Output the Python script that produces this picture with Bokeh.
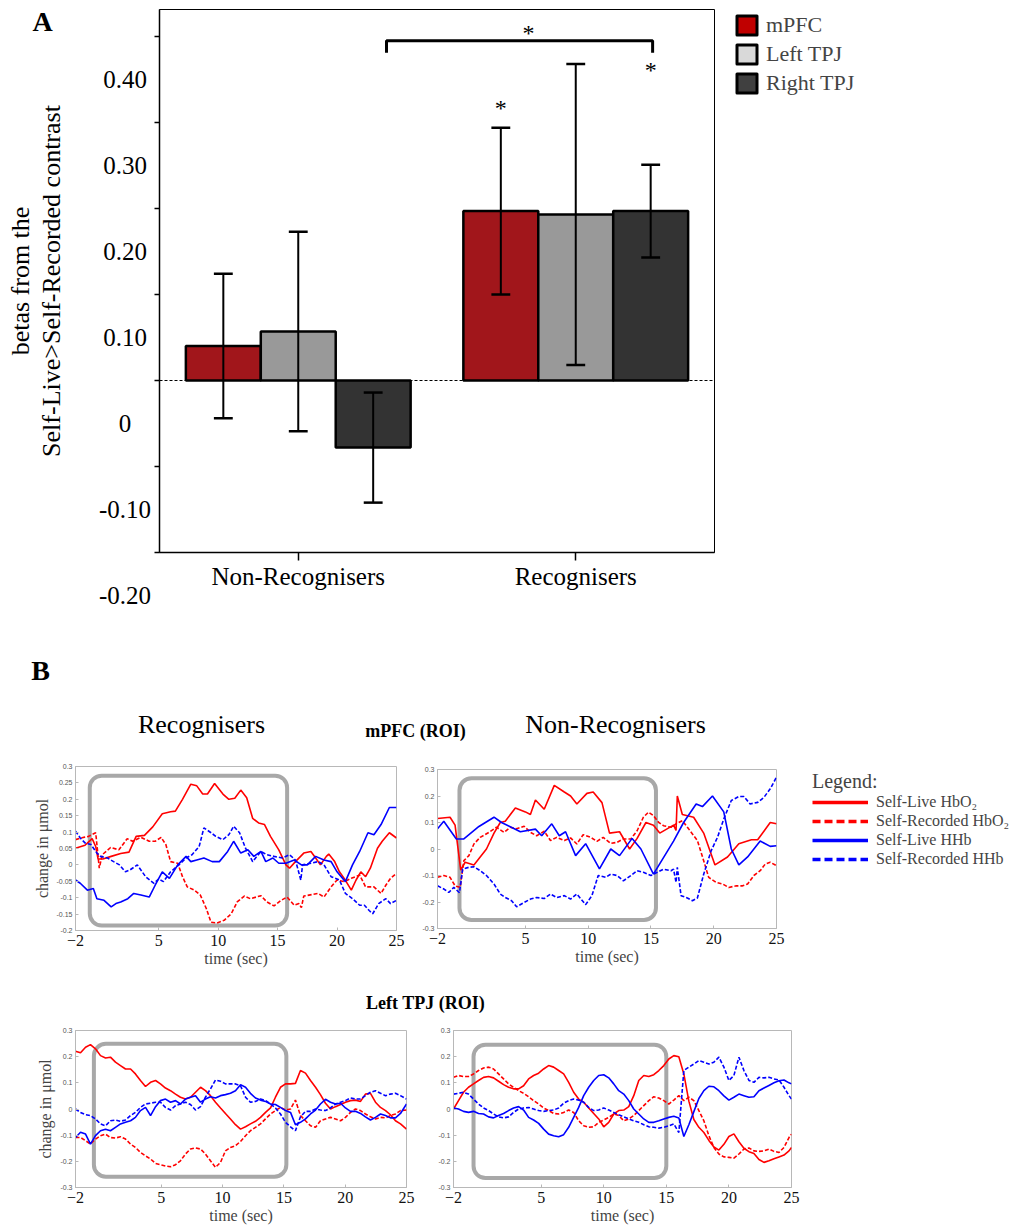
import math
from bokeh.plotting import figure
from bokeh.models import (Range1d, FactorRange, FixedTicker, CustomJSTickFormatter,
                          Span, Legend, LegendItem, BoxAnnotation, ColumnDataSource)
from bokeh.transform import dodge
from bokeh.layouts import column, row
from bokeh.embed import file_html
from bokeh.resources import INLINE
from bokeh.core.properties import value

SERIF = "Liberation Serif"
SANS = "Liberation Sans"
NAN = float("nan")

# ---------------- Panel A data ----------------
GROUPS = ["Non-Recognisers", "Recognisers"]
REGIONS = ["mPFC", "Left TPJ", "Right TPJ"]
MPFC_BETA = [0.040, 0.197]
MPFC_SE = [0.084, 0.097]
LTPJ_BETA = [0.057, 0.193]
LTPJ_SE = [0.116, 0.175]
RTPJ_BETA = [-0.078, 0.197]
RTPJ_SE = [0.064, 0.054]
BAR_FILL = ["#a1161b", "#999999", "#333333"]
SWATCH_FILL = ["#c00000", "#d9d9d9", "#404040"]
A_TICKS = [-0.2, -0.1, 0.0, 0.1, 0.2, 0.3, 0.4]
A_TICK_TEXT = ["-0.20", "-0.10", "0", "0.10", "0.20", "0.30", "0.40"]
LABEL_SHIFT = 0.05   # the printed tick labels sit half a step below the tick marks
BRACKET_X = [0.818, 0.818, 1.777, 1.777]
BRACKET_Y = [0.381, 0.395, 0.395, 0.381]
STAR_X = [1.33, 1.23, 1.77]
STAR_Y = [0.41, 0.323, 0.367]

# ---------------- Panel B data ----------------
X_TICKS = [-2, 5, 10, 15, 20, 25]

REC_MPFC_LIVE_HBO2 = [(-2.0,0.051),(-1.2,0.06),(-0.6,0.08),(-0.3,0.056),(-0.1,0.018),(0.3,0.018),(1.0,0.026),(1.8,0.035),(2.5,0.039),(3.1,0.087),(3.8,0.09),(4.5,0.116),(5.3,0.156),(6.0,0.162),(6.4,0.164),(7.0,0.2),(7.7,0.246),(8.2,0.241),(8.7,0.216),(9.1,0.216),(9.7,0.248),(10.4,0.216),(10.9,0.2),(11.4,0.203),(11.9,0.228),(12.4,0.205),(12.9,0.142),(13.4,0.128),(13.9,0.123),(14.4,0.087),(15.1,0.046),(15.7,0.0),(16.0,-0.01),(16.5,0.01),(17.2,0.036),(17.8,0.041),(18.2,0.021),(18.6,0.0),(19.1,0.026),(19.3,0.033),(19.8,0.01),(20.2,-0.021),(20.6,-0.041),(21.2,-0.077),(21.6,-0.046),(22.0,-0.021),(22.4,-0.036),(22.8,-0.01),(23.4,0.051),(23.8,0.072),(24.4,0.098),(25.0,0.082)]
REC_MPFC_REC_HBO2 = [(-2.0,0.077),(-1.3,0.084),(-0.9,0.087),(-0.3,0.098),(0.0,-0.01),(0.25,0.031),(0.95,0.053),(1.65,0.046),(2.35,0.08),(2.8,0.072),(3.5,0.084),(4.2,0.072),(4.7,0.072),(5.2,0.084),(5.6,0.062),(6.0,0.01),(6.6,0.005),(7.0,-0.036),(7.4,-0.067),(8.0,-0.077),(8.5,-0.092),(9.0,-0.133),(9.4,-0.175),(9.9,-0.177),(10.5,-0.169),(11.1,-0.149),(11.6,-0.113),(12.2,-0.095),(12.7,-0.103),(13.6,-0.094),(14.1,-0.113),(14.7,-0.125),(15.3,-0.108),(15.8,-0.098),(16.4,-0.123),(16.8,-0.118),(17.0,-0.13),(17.2,-0.095),(18.4,-0.087),(18.9,-0.098),(19.5,-0.067),(20.0,-0.046),(20.6,-0.051),(21.2,-0.041),(21.9,-0.031),(22.4,-0.067),(23.1,-0.067),(23.7,-0.087),(24.1,-0.062),(24.5,-0.041),(25.0,-0.026)]
REC_MPFC_LIVE_HHB = [(-2.0,-0.046),(-1.6,-0.056),(-1.0,-0.077),(-0.5,-0.072),(-0.2,-0.103),(0.4,-0.108),(1.0,-0.128),(1.4,-0.118),(1.8,-0.113),(2.4,-0.103),(2.9,-0.087),(3.5,-0.092),(4.2,-0.098),(4.7,-0.062),(5.3,-0.021),(5.9,-0.041),(6.6,0.0),(7.3,0.026),(7.7,0.01),(8.2,0.015),(8.8,0.021),(9.5,0.01),(10.1,0.01),(10.8,0.041),(11.3,0.072),(11.9,0.036),(12.5,0.046),(13.0,0.026),(13.6,0.041),(14.0,0.01),(14.6,0.021),(15.1,0.005),(15.7,0.005),(16.4,0.015),(17.0,0.0),(17.5,0.0),(18.2,0.026),(18.9,0.015),(19.5,0.01),(20.0,-0.021),(20.7,-0.051),(21.3,0.0),(21.9,0.041),(22.6,0.098),(23.1,0.092),(23.7,0.123),(24.4,0.175),(25.0,0.175)]
REC_MPFC_REC_HHB = [(-2.0,0.103),(-1.6,0.082),(-1.2,0.067),(-0.7,0.062),(-0.2,0.036),(0.1,0.026),(0.7,0.021),(1.2,0.01),(1.7,0.0),(2.2,-0.021),(2.6,-0.015),(3.2,0.0),(3.9,-0.036),(4.6,-0.056),(5.0,-0.043),(5.4,-0.051),(6.0,-0.021),(6.7,0.0),(7.3,0.021),(7.8,0.031),(8.4,0.056),(8.8,0.113),(9.4,0.098),(9.8,0.087),(10.4,0.077),(10.9,0.092),(11.3,0.118),(11.8,0.098),(12.3,0.051),(12.9,0.01),(13.6,0.041),(14.1,0.031),(14.7,0.026),(15.4,0.021),(16.0,0.031),(16.5,0.015),(16.95,-0.046),(17.1,0.0),(17.8,0.005),(18.4,0.01),(18.9,0.0),(19.5,-0.036),(20.2,-0.046),(20.7,-0.087),(21.3,-0.103),(21.9,-0.123),(22.3,-0.123),(22.7,-0.139),(23.0,-0.149),(23.5,-0.118),(24.1,-0.103),(24.5,-0.118),(25.0,-0.108)]
REC_MPFC_WINDOW = (-0.8, 15.8, -0.185, 0.272)

NON_MPFC_LIVE_HBO2 = [(-2.0,0.115),(-1.0,0.12),(-0.6,0.09),(-0.15,-0.08),(0.2,-0.05),(0.9,-0.06),(1.4,-0.03),(1.9,0.0),(2.5,0.06),(3.0,0.1),(3.4,0.105),(4.2,0.155),(5.0,0.14),(5.4,0.13),(5.8,0.185),(6.5,0.15),(7.3,0.24),(8.1,0.215),(8.6,0.2),(9.1,0.17),(9.9,0.21),(10.4,0.215),(11.1,0.175),(11.7,0.06),(12.5,0.065),(13.3,0.0),(13.9,0.04),(14.6,0.1),(15.2,0.09),(15.7,0.06),(16.8,0.09),(17.0,0.07),(17.1,0.2),(17.5,0.13),(18.4,0.12),(19.2,0.06),(20.1,-0.06),(21.1,-0.03),(22.0,0.02),(23.0,0.035),(23.5,0.035),(24.5,0.1),(25.0,0.095)]
NON_MPFC_REC_HBO2 = [(-2.0,-0.107),(-1.5,-0.1),(-1.0,-0.107),(-0.6,-0.139),(-0.2,-0.145),(0.1,-0.044),(0.5,-0.025),(0.9,0.019),(1.4,0.044),(2.1,0.063),(2.7,0.082),(3.3,0.063),(3.8,0.082),(4.3,0.076),(4.9,0.086),(5.4,0.063),(5.9,0.05),(6.5,0.067),(7.0,0.032),(7.5,0.044),(8.1,0.032),(8.6,0.042),(9.1,0.019),(9.6,0.054),(10.2,0.044),(10.7,0.029),(11.2,0.044),(11.8,0.021),(12.3,0.025),(12.8,0.038),(13.4,0.038),(13.9,0.069),(14.4,0.12),(14.8,0.139),(15.2,0.126),(15.6,0.101),(16.0,0.088),(16.6,0.082),(17.0,0.095),(17.5,0.107),(18.0,0.076),(18.7,0.032),(19.2,-0.044),(19.6,-0.107),(20.2,-0.126),(20.7,-0.132),(21.2,-0.145),(21.8,-0.139),(22.3,-0.139),(22.7,-0.132),(23.2,-0.1),(23.7,-0.082),(24.1,-0.057),(24.5,-0.05),(25.0,-0.063)]
NON_MPFC_LIVE_HHB = [(-2.0,0.076),(-1.5,0.105),(-0.5,0.038),(0.1,0.038),(1.3,0.085),(2.5,0.12),(3.1,0.1),(4.6,0.065),(5.8,0.075),(6.3,0.05),(7.1,0.095),(7.7,0.05),(8.2,0.065),(9.0,-0.025),(9.8,0.02),(10.9,-0.075),(11.8,0.0),(12.5,-0.025),(13.5,0.04),(14.2,0.0),(15.2,-0.095),(16.8,0.03),(17.6,0.1),(18.6,0.17),(19.1,0.16),(19.9,0.2),(20.8,0.14),(21.4,0.0),(22.0,-0.06),(22.7,-0.03),(23.7,0.03),(24.5,0.01),(25.0,0.012)]
NON_MPFC_REC_HHB = [(-2.0,-0.139),(-1.5,-0.151),(-1.1,-0.164),(-0.7,-0.145),(-0.25,-0.165),(0.0,-0.076),(0.5,-0.069),(0.9,-0.067),(1.4,-0.082),(1.9,-0.1),(2.5,-0.132),(3.0,-0.17),(3.4,-0.183),(3.9,-0.195),(4.3,-0.218),(4.9,-0.202),(5.4,-0.189),(5.9,-0.183),(6.5,-0.187),(7.0,-0.17),(7.5,-0.183),(8.1,-0.176),(8.6,-0.189),(9.1,-0.17),(9.8,-0.21),(10.3,-0.176),(10.8,-0.1),(11.4,-0.107),(11.8,-0.095),(12.3,-0.1),(12.8,-0.12),(13.4,-0.1),(13.9,-0.082),(14.4,-0.088),(15.0,-0.1),(15.5,-0.088),(16.0,-0.076),(16.6,-0.082),(16.8,-0.076),(17.0,-0.126),(17.1,-0.069),(17.4,-0.176),(17.9,-0.185),(18.3,-0.195),(18.7,-0.185),(19.2,-0.095),(19.8,-0.006),(20.3,0.044),(20.8,0.113),(21.4,0.183),(22.0,0.198),(22.4,0.198),(22.9,0.17),(23.5,0.176),(24.0,0.195),(24.5,0.227),(25.0,0.271)]
NON_MPFC_WINDOW = (-0.25, 15.4, -0.268, 0.267)

T_REC_LTPJ = [-2.0,-1.59,-1.18,-0.78,-0.37,0.04,0.45,0.85,1.26,1.67,2.08,2.49,2.89,3.3,3.71,4.12,4.53,4.93,5.34,5.75,6.16,6.56,6.97,7.38,7.79,8.2,8.6,9.01,9.42,9.83,10.23,10.64,11.05,11.46,11.87,12.27,12.68,13.09,13.5,13.91,14.31,14.72,15.13,15.54,15.94,16.35,16.76,17.17,17.58,17.98,18.39,18.8,19.21,19.62,20.02,20.43,20.84,21.25,21.65,22.06,22.47,22.88,23.29,23.69,24.1,24.51,25.0]
REC_LTPJ_LIVE_HBO2 = [0.221,0.215,0.236,0.246,0.23,0.204,0.195,0.198,0.179,0.166,0.153,0.153,0.134,0.109,0.086,0.102,0.109,0.096,0.08,0.07,0.057,0.045,0.038,0.045,0.064,0.083,0.07,0.051,0.026,0.004,-0.017,-0.038,-0.06,-0.077,-0.068,-0.057,-0.047,-0.032,-0.013,0.004,0.045,0.083,0.096,0.096,0.098,0.147,0.137,0.109,0.083,0.055,0.022,0.0,0.009,0.017,0.026,0.032,0.034,0.029,0.057,0.06,0.026,0.006,-0.006,-0.022,-0.045,-0.057,-0.077]
REC_LTPJ_REC_HBO2 = [-0.109,-0.109,-0.121,-0.134,-0.115,-0.102,-0.096,-0.109,-0.111,-0.106,-0.115,-0.134,-0.147,-0.166,-0.179,-0.191,-0.208,-0.213,-0.218,-0.221,-0.213,-0.198,-0.172,-0.153,-0.149,-0.153,-0.172,-0.198,-0.223,-0.204,-0.16,-0.147,-0.14,-0.124,-0.102,-0.083,-0.07,-0.057,-0.038,-0.019,-0.006,0.006,-0.004,0.0,0.034,-0.025,-0.045,-0.064,-0.07,-0.045,-0.038,-0.032,-0.038,-0.045,-0.032,-0.013,0.0,-0.006,-0.019,-0.03,-0.038,-0.032,-0.034,-0.025,-0.019,-0.006,-0.004]
REC_LTPJ_LIVE_HHB = [-0.109,-0.089,-0.096,-0.134,-0.102,-0.083,-0.077,-0.083,-0.07,-0.057,-0.051,-0.045,-0.032,-0.006,0.006,-0.025,0.009,0.032,0.038,0.026,0.032,0.019,0.038,0.045,0.051,0.026,0.038,0.047,0.042,0.051,0.055,0.06,0.07,0.093,0.083,0.06,0.042,0.034,0.029,0.019,0.017,0.006,-0.006,-0.013,-0.06,-0.051,-0.038,-0.019,-0.004,0.019,0.037,0.026,0.019,0.022,0.004,-0.009,-0.009,-0.017,-0.03,-0.042,-0.032,-0.019,-0.025,-0.034,-0.034,-0.017,0.019]
REC_LTPJ_REC_HHB = [0.0,-0.013,-0.022,-0.025,-0.038,-0.057,-0.064,-0.045,-0.042,-0.047,-0.042,-0.025,-0.013,0.006,0.019,0.022,0.026,0.026,0.006,-0.004,0.013,0.019,0.026,0.017,-0.004,0.009,0.045,0.077,0.111,0.106,0.096,0.096,0.096,0.089,0.045,0.026,0.029,0.038,0.032,0.019,0.004,-0.019,-0.051,-0.068,-0.083,-0.03,-0.009,-0.009,0.0,-0.004,-0.006,0.004,0.019,0.026,0.032,0.042,0.038,0.038,0.051,0.064,0.07,0.06,0.051,0.057,0.06,0.051,0.038]
REC_LTPJ_WINDOW = (-0.5, 15.2, -0.259, 0.249)

T_NON_LTPJ = [-2.0,-1.6,-1.2,-0.8,-0.4,0.0,0.4,0.8,1.2,1.6,2.0,2.4,2.8,3.2,3.6,4.0,4.4,4.8,5.2,5.6,6.0,6.4,6.8,7.2,7.6,8.0,8.4,8.8,9.2,9.6,10.0,10.4,10.8,11.2,11.6,12.0,12.4,12.8,13.2,13.6,14.0,14.4,14.8,15.2,15.6,16.0,16.4,16.8,17.2,17.6,18.0,18.4,18.8,19.2,19.6,20.0,20.4,20.8,21.2,21.6,22.0,22.4,22.8,23.2,23.6,24.0,24.4,24.8,25.0]
NON_LTPJ_LIVE_HBO2 = [0.0,0.032,0.064,0.083,0.096,0.109,0.121,0.124,0.119,0.106,0.093,0.083,0.077,0.077,0.089,0.115,0.128,0.137,0.153,0.166,0.16,0.147,0.134,0.102,0.064,0.038,0.026,0.004,-0.017,-0.038,-0.068,-0.051,-0.019,-0.006,-0.004,0.009,0.051,0.109,0.128,0.124,0.131,0.147,0.166,0.191,0.204,0.2,0.134,0.03,-0.04,-0.07,-0.09,-0.12,-0.145,-0.157,-0.135,-0.105,-0.095,-0.125,-0.15,-0.163,-0.17,-0.193,-0.204,-0.198,-0.19,-0.183,-0.176,-0.16,-0.147]
NON_LTPJ_REC_HBO2 = [0.121,0.128,0.124,0.124,0.134,0.147,0.157,0.16,0.153,0.134,0.115,0.096,0.083,0.07,0.06,0.047,0.032,0.019,0.004,-0.006,-0.017,-0.019,-0.013,-0.004,-0.013,-0.045,-0.064,-0.07,-0.068,-0.051,-0.042,-0.032,-0.019,-0.025,-0.045,-0.038,-0.025,-0.006,0.013,0.032,0.047,0.042,0.032,0.019,0.034,0.051,0.032,0.045,0.032,-0.006,-0.045,-0.102,-0.147,-0.172,-0.183,-0.185,-0.188,-0.172,-0.153,-0.149,-0.16,-0.162,-0.16,-0.153,-0.162,-0.166,-0.147,-0.109,-0.096]
NON_LTPJ_LIVE_HHB = [0.004,0.0,-0.009,-0.013,-0.009,-0.017,-0.019,-0.03,-0.034,-0.025,-0.017,-0.006,0.004,0.009,-0.004,-0.032,-0.042,-0.055,-0.077,-0.096,-0.102,-0.106,-0.098,-0.07,-0.032,0.006,0.051,0.083,0.109,0.128,0.131,0.119,0.096,0.07,0.057,0.032,0.0,-0.019,-0.038,-0.051,-0.051,-0.045,-0.038,-0.032,-0.028,-0.034,-0.105,-0.06,-0.01,0.04,0.07,0.087,0.085,0.07,0.05,0.034,0.045,0.057,0.051,0.045,0.047,0.07,0.08,0.09,0.1,0.108,0.111,0.1,0.096]
NON_LTPJ_REC_HHB = [0.057,0.06,0.064,0.057,0.038,0.019,0.004,-0.006,-0.019,-0.03,-0.034,-0.03,-0.013,0.0,0.004,0.006,0.0,-0.006,-0.009,-0.006,-0.004,0.004,0.022,0.032,0.038,0.034,0.026,0.006,-0.006,-0.004,0.004,-0.004,-0.013,-0.022,-0.03,-0.038,-0.045,-0.051,-0.06,-0.068,-0.07,-0.073,-0.07,-0.064,-0.057,-0.09,0.147,0.16,0.172,0.185,0.179,0.172,0.179,0.198,0.16,0.109,0.128,0.198,0.147,0.109,0.102,0.121,0.119,0.121,0.115,0.111,0.083,0.051,0.038]
NON_LTPJ_WINDOW = (-0.4, 15.0, -0.264, 0.246)

SERIES_NAMES = ["Self-Live HbO\u2082", "Self-Recorded HbO\u2082", "Self-Live HHb", "Self-Recorded HHb"]
SERIES_COLORS = ["#ff0000", "#ff0000", "#0000ff", "#0000ff"]
SERIES_DASH = ["solid", "4 2", "solid", "4 2"]

FRAME_GRAY = "#b8b8b8"
WINDOW_GRAY = "#a8a8a8"


def solo(p):
    return column(p)


def blank(width, height, xr, yr):
    f = figure(width=width, height=height, x_range=xr, y_range=yr,
               output_backend="svg", toolbar_location=None, title=None,
               x_axis_location=None, y_axis_location=None, min_border=0,
               min_border_left=0, min_border_right=0, min_border_top=0, min_border_bottom=0)
    f.grid.visible = False
    f.outline_line_color = None
    return f


# ======================= Panel A =======================
Y0, Y1 = -0.2, 0.4314
A_H = 616
A_TOP, A_BOTTOM = 9, 64
A_FRAME_H = A_H - A_TOP - A_BOTTOM
PX = A_FRAME_H / (Y1 - Y0)
LEFT_W = 152

pA = figure(width=564, height=A_H, x_range=FactorRange(factors=GROUPS),
            y_range=Range1d(Y0, Y1), output_backend="svg", toolbar_location=None,
            title=None, min_border_left=7, min_border_right=2,
            min_border_top=A_TOP, min_border_bottom=A_BOTTOM)
pA.grid.visible = False
pA.outline_line_color = "black"
pA.outline_line_width = 1

yax = pA.yaxis[0]
yax.ticker = FixedTicker(ticks=[], minor_ticks=A_TICKS)
yax.major_tick_out = 0
yax.major_tick_in = 0
yax.minor_tick_out = 5
yax.minor_tick_in = 0
yax.axis_line_width = 1.5
yax.minor_tick_line_width = 1.5

xax = pA.xaxis[0]
xax.major_label_text_font = SERIF
xax.major_label_text_font_size = "25px"
xax.major_label_text_color = "black"
xax.major_tick_out = 8
xax.major_tick_in = 0
xax.major_label_standoff = 2
xax.axis_line_width = 1.5
xax.major_tick_line_width = 1.5

pA.add_layout(Span(location=0, dimension="width", line_color="black",
                   line_width=1, line_dash="3 2", level="underlay"))

OFFS = [-0.27, 0.0, 0.27]
CAP = 0.034
for i, (beta, se) in enumerate([(MPFC_BETA, MPFC_SE), (LTPJ_BETA, LTPJ_SE), (RTPJ_BETA, RTPJ_SE)]):
    src = ColumnDataSource(dict(group=GROUPS, beta=beta,
                                lo=[b - s for b, s in zip(beta, se)],
                                hi=[b + s for b, s in zip(beta, se)]))
    xc = dodge("group", OFFS[i], range=pA.x_range)
    pA.vbar(x=xc, top="beta", bottom=0, width=0.27, source=src,
            fill_color=BAR_FILL[i], line_color="black", line_width=2.5)
    pA.segment(x0=xc, x1=xc, y0="lo", y1="hi", source=src, line_color="black", line_width=2)
    for key in ("lo", "hi"):
        pA.segment(x0=dodge("group", OFFS[i] - CAP, range=pA.x_range),
                   x1=dodge("group", OFFS[i] + CAP, range=pA.x_range),
                   y0=key, y1=key, source=src, line_color="black", line_width=2.5)

pA.line(x=BRACKET_X, y=BRACKET_Y, line_color="black", line_width=3)
pA.text(x=STAR_X, y=STAR_Y, text=["*"] * len(STAR_X), text_font=value(SERIF),
        text_font_size="24px", text_align="center", text_baseline="middle", y_offset=5,
        text_color="black")

# left strip: panel letter, y title and the printed y tick labels (same scale as pA, shifted)
lab_top = Y1 + LABEL_SHIFT + A_TOP / PX
lab_bottom = Y0 + LABEL_SHIFT - A_BOTTOM / PX


def lab_at(py):
    return lab_top - py / PX


pL = blank(LEFT_W, A_H, Range1d(0, LEFT_W), Range1d(lab_bottom, lab_top))
pL.text(x=[124.5] * len(A_TICKS), y=A_TICKS, text=A_TICK_TEXT, text_font=value(SERIF),
        text_font_size="25px", text_align="center", text_baseline="middle", text_color="black")
mid = lab_at(A_TOP + A_FRAME_H / 2)
pL.text(x=[20, 51], y=[mid, mid], text=["betas from the", "Self-Live>Self-Recorded contrast"],
        angle=math.pi / 2, text_font=value(SERIF), text_font_size="26px",
        text_align="center", text_baseline="middle", text_color="black")
pL.text(x=[42], y=[lab_at(21)], text=["A"], text_font=value(SERIF), text_font_size="28px",
        text_font_style="bold", text_align="center", text_baseline="middle", text_color="black")

# right strip: legend of panel A
R_W = 1016 - LEFT_W - 564
pR = blank(R_W, A_H, Range1d(0, 1), Range1d(0, 1))
items = []
for name, col in zip(REGIONS, SWATCH_FILL):
    r = pR.quad(left=[NAN], right=[NAN], top=[NAN], bottom=[NAN], fill_color=col,
                line_color="black", line_width=3, line_join="round")
    items.append(LegendItem(label=name, renderers=[r]))
LEG_H = 3 * 26 + 2 * 3
pR.add_layout(Legend(items=items, location=(18, A_H - LEG_H - 12), padding=0, margin=0,
                     spacing=3, glyph_width=25, glyph_height=24, label_height=26, label_standoff=7,
                     label_text_font=SERIF, label_text_font_size="22px",
                     background_fill_alpha=0, border_line_color=None))


# ======================= Panel B =======================
def header(height, xs, ys, texts, sizes, styles):
    h = blank(1016, height, Range1d(0, 1016), Range1d(height, 0))
    for x, y, t, s, st in zip(xs, ys, texts, sizes, styles):
        h.text(x=[x], y=[y], text=[t], text_font=value(SERIF), text_font_size=s,
               text_font_style=st, text_align="center", text_baseline="middle",
               text_color="black")
    return h


def curve_fig(width, height, borders, yr, yticks, window, curves, ytitle):
    bl, br, bt, bb = borders
    p = figure(width=width, height=height, x_range=Range1d(-2, 25), y_range=Range1d(*yr),
               output_backend="svg", toolbar_location=None, title=None,
               min_border_left=bl, min_border_right=br, min_border_top=bt, min_border_bottom=bb)
    p.grid.visible = False
    p.outline_line_color = FRAME_GRAY
    p.outline_line_width = 1
    xa = p.xaxis[0]
    xa.ticker = FixedTicker(ticks=X_TICKS)
    xa.axis_label = "time (sec)"
    xa.axis_label_text_font = SERIF
    xa.axis_label_text_font_size = "16px"
    xa.axis_label_text_font_style = "normal"
    xa.axis_label_standoff = 1
    xa.major_label_text_font = SERIF
    xa.major_label_text_font_size = "16px"
    xa.major_label_text_color = "#111111"
    xa.major_label_standoff = 4
    xa.major_tick_in = 3
    xa.major_tick_out = 0
    xa.axis_line_color = FRAME_GRAY
    xa.major_tick_line_color = FRAME_GRAY
    ya = p.yaxis[0]
    ya.ticker = FixedTicker(ticks=yticks)
    ya.formatter = CustomJSTickFormatter(code="return String(Math.round(tick * 100) / 100);")
    ya.major_label_text_font = SANS
    ya.major_label_text_font_size = "7px"
    ya.major_label_text_color = "#555555"
    ya.major_label_standoff = 3
    ya.major_tick_in = 3
    ya.major_tick_out = 0
    ya.axis_line_color = FRAME_GRAY
    ya.major_tick_line_color = FRAME_GRAY
    if ytitle:
        ya.axis_label = ytitle
        ya.axis_label_text_font = SERIF
        ya.axis_label_text_font_size = "16px"
        ya.axis_label_text_font_style = "normal"
        ya.axis_label_standoff = 3
    left, right, bottom, top = window
    p.add_layout(BoxAnnotation(left=left, right=right, bottom=bottom, top=top,
                               fill_color=None, fill_alpha=0, line_color=WINDOW_GRAY,
                               line_alpha=1.0, line_width=4, border_radius=12, level="underlay"))
    for (ts, vs), col, dash in zip(curves, SERIES_COLORS, SERIES_DASH):
        p.line(x=ts, y=vs, line_color=col, line_width=1.6, line_dash=dash)
    return p


def unpack(pairs):
    return [a for a, _ in pairs], [b for _, b in pairs]


hdr1 = header(134, [40, 201, 415, 615], [54, 108, 114, 108],
              ["B", "Recognisers", "mPFC (ROI)", "Non-Recognisers"],
              ["28px", "26px", "18px", "26px"], ["bold", "normal", "bold", "normal"])

ROW1_H = 225
f1 = curve_fig(418, ROW1_H, (75, 22, 16, 45), (-0.2, 0.3),
               [-0.2, -0.15, -0.1, -0.05, 0, 0.05, 0.1, 0.15, 0.2, 0.25, 0.3],
               REC_MPFC_WINDOW,
               [unpack(REC_MPFC_LIVE_HBO2), unpack(REC_MPFC_REC_HBO2),
                unpack(REC_MPFC_LIVE_HHB), unpack(REC_MPFC_REC_HHB)],
               "change in \u03bcmol")
f2 = curve_fig(372, ROW1_H, (19, 14, 19, 47), (-0.3, 0.3),
               [-0.3, -0.2, -0.1, 0, 0.1, 0.2, 0.3],
               NON_MPFC_WINDOW,
               [unpack(NON_MPFC_LIVE_HBO2), unpack(NON_MPFC_REC_HBO2),
                unpack(NON_MPFC_LIVE_HHB), unpack(NON_MPFC_REC_HHB)],
               None)

fB = blank(1016 - 418 - 372, ROW1_H, Range1d(0, 1), Range1d(0, 1))
leg_items = []
for name, col, dash in zip(SERIES_NAMES, SERIES_COLORS, ["solid", "8 4", "solid", "8 4"]):
    r = fB.line(x=[NAN, NAN], y=[NAN, NAN], line_color=col, line_width=3.5, line_dash=dash)
    leg_items.append(LegendItem(label=name, renderers=[r]))
LEGB_H = 23 + 4 * 18 + 3
fB.add_layout(Legend(items=leg_items, location=(22, ROW1_H - LEGB_H - 20), padding=0, margin=0,
                     spacing=1, glyph_width=56, glyph_height=16, label_height=18, label_standoff=8,
                     label_text_font=SERIF, label_text_font_size="16px",
                     title="Legend:", title_text_font=SERIF, title_text_font_size="20px",
                     title_text_font_style="normal", title_standoff=0,
                     background_fill_alpha=0, border_line_color=None))

hdr2 = header(45, [425], [27], ["Left TPJ (ROI)"], ["18px"], ["bold"])

f3 = curve_fig(425, 208, (75, 19, 10, 41), (-0.3, 0.3),
               [-0.3, -0.2, -0.1, 0, 0.1, 0.2, 0.3],
               REC_LTPJ_WINDOW,
               [(T_REC_LTPJ, REC_LTPJ_LIVE_HBO2), (T_REC_LTPJ, REC_LTPJ_REC_HBO2),
                (T_REC_LTPJ, REC_LTPJ_LIVE_HHB), (T_REC_LTPJ, REC_LTPJ_REC_HHB)],
               "change in \u03bcmol")
f4 = curve_fig(591, 208, (28, 225, 10, 41), (-0.3, 0.3),
               [-0.3, -0.2, -0.1, 0, 0.1, 0.2, 0.3],
               NON_LTPJ_WINDOW,
               [(T_NON_LTPJ, NON_LTPJ_LIVE_HBO2), (T_NON_LTPJ, NON_LTPJ_REC_HBO2),
                (T_NON_LTPJ, NON_LTPJ_LIVE_HHB), (T_NON_LTPJ, NON_LTPJ_REC_HHB)],
               None)

page = column(row(solo(pL), solo(pA), solo(pR)), solo(hdr1),
              row(solo(f1), solo(f2), solo(fB)),
              solo(hdr2), row(solo(f3), solo(f4)))

open("out.html", "w").write(file_html(page, INLINE))
